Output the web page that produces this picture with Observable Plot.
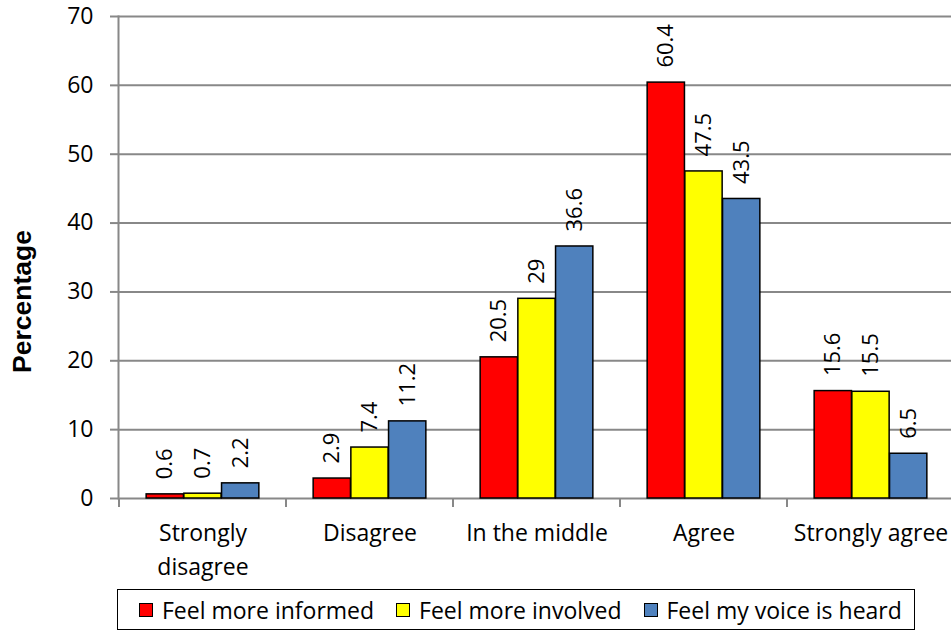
<!DOCTYPE html>
<html>
<head>
<meta charset="utf-8">
<script src="https://cdn.jsdelivr.net/npm/d3@7"></script>
<script src="https://cdn.jsdelivr.net/npm/@observablehq/plot@0.6"></script>
<style>
  html, body { margin: 0; padding: 0; background: #fff; overflow: hidden; }
  #wrap { position: relative; width: 951px; height: 631px; }
  #legend {
    position: absolute; left: 117px; top: 589px; width: 798px; height: 41px;
    border: 1.5px solid #000; box-sizing: border-box;
    display: flex; align-items: center; padding-left: 21px;
    font-family: "Open Sans", sans-serif; font-size: 23px; color: #000;
  }
  .item { display: flex; align-items: center; margin-right: 22px; white-space: nowrap; }
  .sw { width: 12px; height: 12px; border: 1.5px solid #000; margin-right: 9px; }
</style>
</head>
<body>
<div id="wrap">
  <div id="chart"></div>
  <div id="legend"></div>
</div>
<script>
const categories = ["Strongly disagree", "Disagree", "In the middle", "Agree", "Strongly agree"];
const series = ["Feel more informed", "Feel more involved", "Feel my voice is heard"];
const informed = [0.6, 2.9, 20.5, 60.4, 15.6];
const involved = [0.7, 7.4, 29, 47.5, 15.5];
const voice = [2.2, 11.2, 36.6, 43.5, 6.5];
const colors = ["#FF0000", "#FFFF00", "#4F81BD"];
const yTicks = [0, 10, 20, 30, 40, 50, 60, 70];
const yLabel = "Percentage";

const valuesBySeries = [informed, involved, voice];
const rows = series.flatMap((s, si) =>
  categories.map((c, ci) => ({category: c, series: s, si, value: valuesBySeries[si][ci]}))
);

const width = 951, height = 589;
const marginLeft = 118, marginRight = -4, marginTop = 16, marginBottom = 91;
const band = (width - marginLeft - marginRight) / categories.length;
const barW = 37.7;
const outer = (band - 3 * barW) / 2;
const gray = "#888888";

const marks = [
  Plot.gridY(yTicks, {stroke: gray, strokeOpacity: 1, strokeWidth: 2}),
  Plot.frame({anchor: "left", stroke: gray, strokeWidth: 2}),
  Plot.axisY(yTicks, {tickSize: 8, tickPadding: 17, stroke: gray, strokeWidth: 2, fill: "#000", label: null, fontSize: 23}),
  Plot.axisX({tickSize: 0, tickPadding: 18, label: null, fontSize: 23, lineHeight: 1.5,
    tickFormat: d => d === "Strongly disagree" ? "Strongly\ndisagree" : d}),
  (index, scales, values, dims) => {
    const g = d3.create("svg:g");
    const xs = categories.map(c => scales.x(c));
    const step = xs[1] - xs[0];
    xs.push(xs[xs.length - 1] + step);
    const y0 = scales.y(0);
    g.selectAll("line").data(xs).join("line")
      .attr("x1", d => d).attr("x2", d => d)
      .attr("y1", y0).attr("y2", y0 + 9)
      .attr("stroke", gray).attr("stroke-width", 2);
    return g.node();
  },
  ...series.map((s, si) => Plot.barY(rows.filter(r => r.si === si), {
    x: "category", y: "value", fill: colors[si], stroke: "#000", strokeWidth: 1.5,
    insetLeft: outer + si * barW, insetRight: band - outer - (si + 1) * barW
  })),
  ...series.map((s, si) => Plot.text(rows.filter(r => r.si === si), {
    x: "category", y: "value", text: d => String(d.value), rotate: -90,
    textAnchor: "start", dx: (si - 1) * barW, dy: -15, fontSize: 22, fill: "#000"
  })),
  Plot.text([yLabel], {frameAnchor: "left", text: d => d, rotate: -90, textAnchor: "middle", dx: -96, dy: 44,
    fontWeight: "bold", fontSize: 26.5, fontFamily: "Liberation Sans, Arial, sans-serif", fill: "#000"})
];

const chart = Plot.plot({
  width, height, marginLeft, marginRight, marginTop, marginBottom,
  style: {fontFamily: "Open Sans, sans-serif", fontSize: "23px", background: "#fff", color: "#000", overflow: "hidden"},
  x: {domain: categories, padding: 0, axis: null},
  y: {domain: [0, 70], axis: null},
  marks
});
document.getElementById("chart").appendChild(chart);

const legend = document.getElementById("legend");
series.forEach((s, i) => {
  const item = document.createElement("div");
  item.className = "item";
  const sw = document.createElement("div");
  sw.className = "sw";
  sw.style.background = colors[i];
  const t = document.createElement("span");
  t.textContent = s;
  item.appendChild(sw);
  item.appendChild(t);
  legend.appendChild(item);
});
</script>
</body>
</html>
